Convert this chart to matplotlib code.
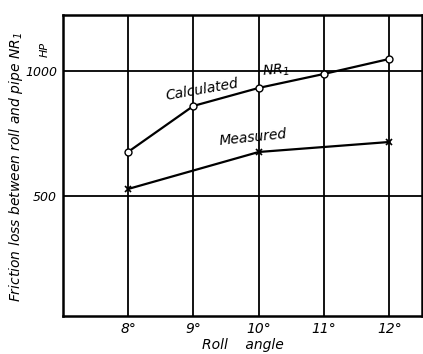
import matplotlib.pyplot as plt

angles = [8, 9, 10, 11, 12]
calculated = [676, 860, 932, 988, 1048]
measured_angles = [8, 10, 12]
measured = [528, 676, 716]
x_labels = ["8°", "9°", "10°", "11°", "12°"]
y_ticks = [500, 1000]

plt.rcParams["font.family"] = "DejaVu Sans"
plt.rcParams["font.style"] = "italic"

fig = plt.figure(figsize=(4.23, 3.54), dpi=100)
ax = fig.add_axes([0.148, 0.107, 0.85, 0.851])

ax.set_xlim(7, 12.5)
ax.set_ylim(20, 1224)

for x in angles:
    ax.axvline(x, color="black", lw=1.3, zorder=1)
for y in y_ticks:
    ax.axhline(y, color="black", lw=1.3, zorder=1)

ax.plot(angles, calculated, color="black", lw=1.6, marker="o", ms=5,
        mfc="white", mec="black", mew=1.0, zorder=3)
ax.plot(measured_angles, measured, color="black", lw=1.6, marker="x", ms=5,
        mew=1.2, zorder=3)

for s in ax.spines.values():
    s.set_linewidth(1.8)

ax.set_xticks(angles)
ax.set_xticklabels(x_labels, fontsize=10)
ax.set_yticks(y_ticks)
ax.set_yticklabels([str(v) for v in y_ticks], fontsize=9)
ax.tick_params(length=0, pad=4)

ax.text(-0.05, 0.884, "HP", transform=ax.transAxes, fontsize=8, ha="center",
        va="center", rotation=90)

ax.text(8.56, 925, "Calculated", fontsize=10, rotation=10, ha="left", va="center")
ax.text(10.05, 1000, "NR$_1$", fontsize=10, rotation=5, ha="left", va="center")
ax.text(9.38, 735, "Measured", fontsize=10, rotation=6, ha="left", va="center")

ax.set_xlabel("Roll    angle", fontsize=10, labelpad=2)
fig.text(16 / 423, 1 - 167 / 354, "Friction loss between roll and pipe NR$_1$",
         fontsize=10, rotation=90, ha="center", va="center")

fig.savefig("out.png", dpi=100)
